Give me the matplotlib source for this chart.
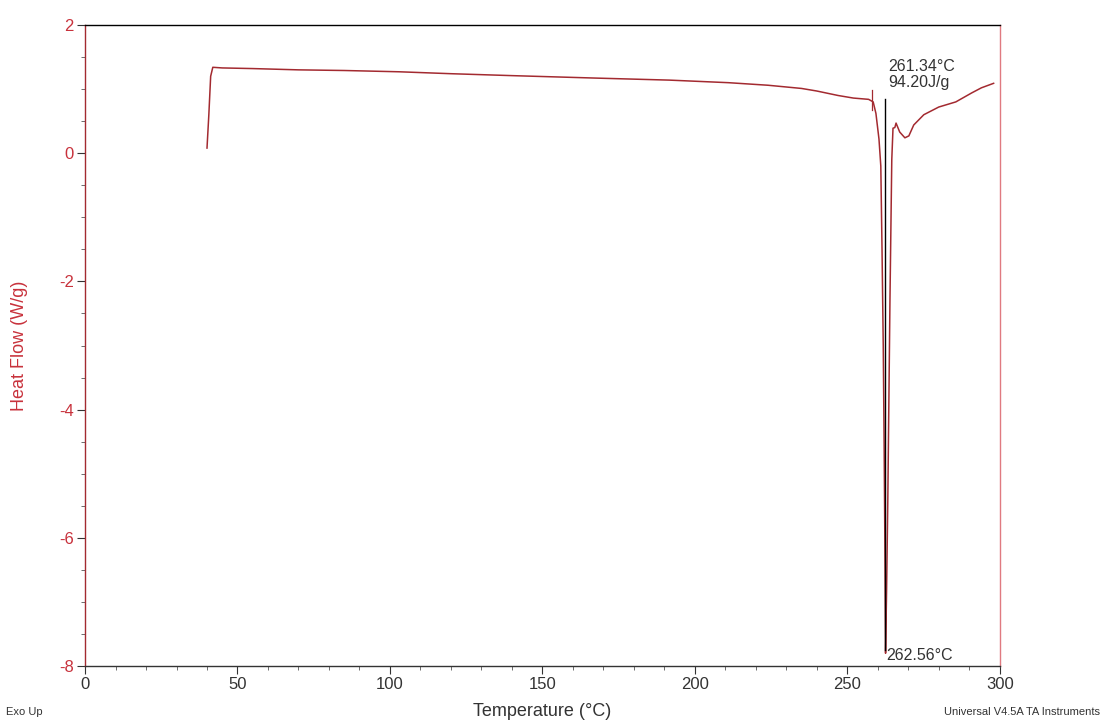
import matplotlib
matplotlib.use("Agg")
from matplotlib import pyplot as plt
from matplotlib.ticker import MultipleLocator

plt.rcParams['font.family'] = ['Liberation Sans', 'DejaVu Sans']
plt.rcParams['axes.unicode_minus'] = False

# DSC curve
temps = [40.0, 40.6, 41.2, 41.9, 45, 55, 70, 85, 103, 120, 140, 168.7, 191.6,
         211, 224, 235, 240, 247, 252, 257.0, 258.5, 259.4, 260.4, 261.0,
         261.4, 261.8, 262.1, 262.4, 262.56, 262.9, 263.3, 264.0, 264.6,
         265.0, 265.6, 266.0, 267.2, 268.9, 270.2, 271.8, 275.1, 280,
         285.6, 290.8, 294, 298]
heat_flow = [0.08, 0.6, 1.2, 1.34, 1.33, 1.32, 1.30, 1.29, 1.27, 1.24, 1.21,
             1.17, 1.14, 1.10, 1.06, 1.01, 0.97, 0.90, 0.86, 0.84, 0.80, 0.62,
             0.22, -0.2, -1.5, -3.0, -4.6, -6.5, -7.8, -6.8, -5.4, -2.3, -0.1,
             0.39, 0.40, 0.47, 0.33, 0.24, 0.27, 0.44, 0.60, 0.72, 0.80, 0.94,
             1.02, 1.09]

onset_label = "261.34°C\n94.20J/g"
peak_label = "262.56°C"
peak_t = 262.56
limit_t = 258.0

red = '#c8323c'
line_red = '#a32a30'

fig = plt.figure(figsize=(11.06, 7.24), dpi=100)
ax = fig.add_axes([0.0769, 0.080, 0.827, 0.8855])

ax.plot(temps, heat_flow, color=line_red, lw=1.1)
ax.plot([peak_t - 0.3, peak_t - 0.3], [0.85, -7.75], color='black', lw=1.0)
ax.plot([limit_t, limit_t], [0.98, 0.68], color=line_red, lw=0.9)

ax.text(263.3, 0.98, onset_label, fontsize=11.5, color='#333333',
        va='bottom', ha='left', linespacing=1.15)
ax.text(262.9, -7.95, peak_label, fontsize=11.5, color='#333333',
        va='bottom', ha='left')

ax.set_xlim(0, 300)
ax.set_ylim(-8, 2)
ax.xaxis.set_major_locator(MultipleLocator(50))
ax.xaxis.set_minor_locator(MultipleLocator(10))
ax.yaxis.set_major_locator(MultipleLocator(2))
ax.yaxis.set_minor_locator(MultipleLocator(0.5))

ax.tick_params(axis='x', which='major', direction='out', length=6,
               labelsize=12, labelcolor='#333333', color='#333333', pad=2)
ax.tick_params(axis='x', which='minor', direction='out', length=3,
               color='#555555')
ax.tick_params(axis='y', which='major', direction='out', length=6,
               labelsize=12, labelcolor=red, color='#333333', pad=2)
ax.tick_params(axis='y', which='minor', direction='out', length=3,
               color='#555555')

ax.spines['left'].set_color(line_red)
ax.spines['right'].set_color('#e07a80')
ax.spines['top'].set_color('black')
ax.spines['bottom'].set_color('#333333')
for s in ax.spines.values():
    s.set_linewidth(1.0)

ax.set_ylabel("Heat Flow (W/g)", fontsize=13, color=red)
ax.yaxis.set_label_coords(-0.062, 0.5)
ax.set_xlabel("Temperature (°C)", fontsize=13, color='#333333')
ax.xaxis.set_label_coords(0.5, -0.058)

fig.text(0.005, 0.012, "Exo Up", fontsize=8, color='#333333', ha='left')
fig.text(0.995, 0.012, "Universal V4.5A TA Instruments", fontsize=8,
         color='#333333', ha='right')

fig.savefig("out.png", dpi=100)
